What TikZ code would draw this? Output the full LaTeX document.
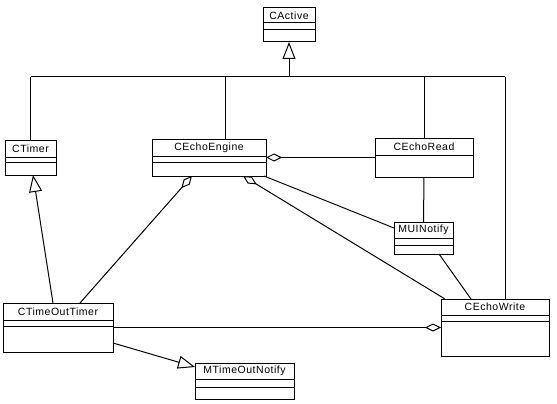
\documentclass[tikz,border=0pt]{standalone}
\usepackage{fontspec}
\setmainfont[LetterSpace=5]{Liberation Sans}
\usetikzlibrary{arrows.meta,calc}
\tikzset{
  clsbox/.style={draw, line width=1pt, inner sep=0pt, outer sep=0pt},
  clslabel/.style={inner sep=0pt, font=\fontsize{10.5}{12}\selectfont},
  conn/.style={line width=1pt},
  gen/.style={conn, -{Triangle[length=17pt, width=13pt, fill=white]}},
  agg/.style={conn, -{Diamond[length=16pt, width=8pt, fill=white]}},
}
\newcommand\umlbox[7]{%
  \node[clsbox, minimum width=#4pt, minimum height=#5pt] (#1) at (#2,#3) {};
  \node[clslabel] (#1-name) at (#2,#6) {#7};
}
\begin{document}
\begin{tikzpicture}[x=1pt, y=-1pt]
\fill[white] (0,0) rectangle (557,404);
\useasboundingbox (0,0) rectangle (557,404);

% classes
\umlbox{cact}{289}{25}{52}{34}{15.5}{CActive}
\foreach \d in {23,30} \draw[conn] (cact.west |- 0,\d) -- (cact.east |- 0,\d);

\umlbox{ctimer}{30.5}{157.5}{51}{35}{148.5}{CTimer}
\foreach \d in {157,162} \draw[conn] (ctimer.west |- 0,\d) -- (ctimer.east |- 0,\d);

\umlbox{ceng}{209}{157.5}{114}{37}{147.5}{CEchoEngine}
\foreach \d in {156,162} \draw[conn] (ceng.west |- 0,\d) -- (ceng.east |- 0,\d);

\umlbox{cread}{424}{157.5}{98}{39}{146.5}{CEchoRead}
\foreach \d in {155} \draw[conn] (cread.west |- 0,\d) -- (cread.east |- 0,\d);

\umlbox{mui}{423.5}{238}{59}{32}{230}{MUINotify}
\foreach \d in {238,245} \draw[conn] (mui.west |- 0,\d) -- (mui.east |- 0,\d);

\umlbox{ctot}{58}{327.5}{110}{49}{311.5}{CTimeOutTimer}
\foreach \d in {320,326} \draw[conn] (ctot.west |- 0,\d) -- (ctot.east |- 0,\d);

\umlbox{cwrite}{495}{327.5}{108}{57}{307}{CEchoWrite}
\foreach \d in {315,321} \draw[conn] (cwrite.west |- 0,\d) -- (cwrite.east |- 0,\d);

\umlbox{mtn}{244.5}{381}{99}{36}{371}{MTimeOutNotify}
\foreach \d in {379,387} \draw[conn] (mtn.west |- 0,\d) -- (mtn.east |- 0,\d);

% inheritance tree to CActive
\coordinate (j) at (289,77);
\coordinate (jl) at (30.5,77);
\coordinate (je) at (225,77);
\coordinate (jr) at (505,77);
\draw[gen] (j) -- (cact.south);
\draw[conn] (jl) -- (jr);
\draw[conn] (jl) -- (ctimer.north);
\draw[conn] (je) -- (je |- ceng.north);
\draw[conn] (cread.north |- jl) -- (cread.north);
\draw[conn] (jr) -- (jr |- cwrite.north);

% other relations
\draw[agg] (cread.west) -- (ceng.east);
\draw[conn] (cread.south) -- (mui.north);
\draw[conn] ($(ceng.south east)+(-2,0)$) -- ($(mui.north west)+(0,6)$);
\draw[agg] ($(ctot.north west)+(77,0)$) -- ($(ceng.south west)+(40,0)$);
\draw[agg] ($(cwrite.north west)+(4,0)$) -- ($(ceng.south west)+(91,0)$);
\draw[conn] ($(mui.south west)+(45,0)$) -- ($(cwrite.north west)+(30,0)$);
\draw[agg] (ctot.east) -- (cwrite.west);
\draw[gen] ($(ctot.north west)+(50,0)$) -- ($(ctimer.south west)+(28,0)$);
\draw[gen] ($(ctot.north east)+(0,40)$) -- ($(mtn.north west)+(0,4)$);
\end{tikzpicture}
\end{document}
